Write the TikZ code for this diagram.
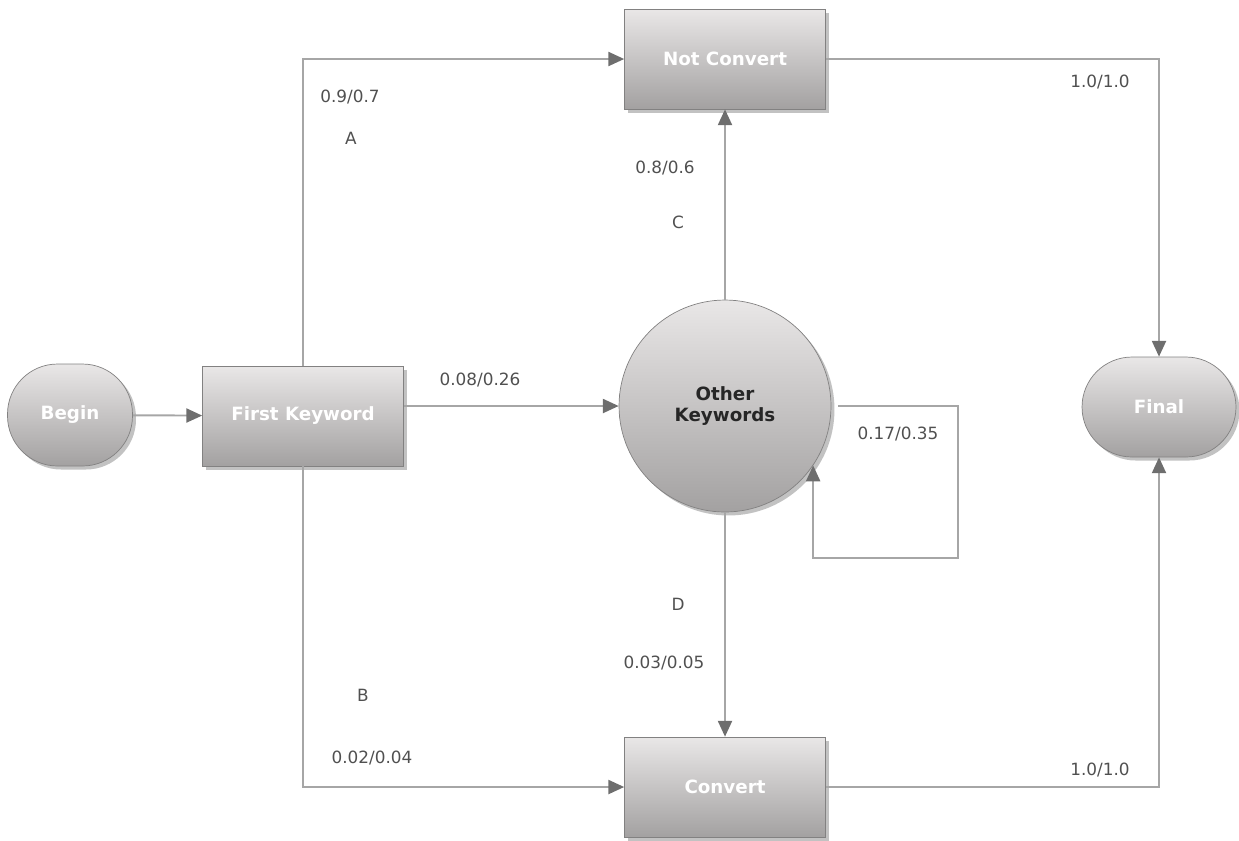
\documentclass[tikz,border=0pt]{standalone}
\usepackage{fontspec}
\setmainfont{DejaVu Sans}
\usetikzlibrary{shapes}
\usetikzlibrary{positioning}
\usetikzlibrary{shadows}
\usetikzlibrary{arrows.meta}

\definecolor{boxtop}{HTML}{E9E7E7}
\definecolor{boxbot}{HTML}{A3A1A1}
\definecolor{edgegray}{HTML}{A6A6A6}
\definecolor{tipgray}{HTML}{6E6E6E}
\definecolor{lblgray}{HTML}{505050}

\tikzset{
  base/.style={draw=boxbot!80!black, line width=0.4pt, top color=boxtop, bottom color=boxbot,
    drop shadow={shadow xshift=0.07cm, shadow yshift=-0.07cm, opacity=0.4, fill=black!60},
    font=\bfseries\fontsize{10.4}{12.5}\selectfont, text=white, align=center},
  box/.style={base, rectangle, minimum width=4.02cm, minimum height=2cm},
  terminal/.style={base, rectangle, rounded corners=1cm, minimum height=2cm},
  state/.style={base, circle, minimum size=4.24cm, text=black!85},
  flow/.style={draw=edgegray, line width=1.1pt, -{Triangle[length=9pt,width=8pt,color=tipgray]}},
  lbl/.style={text=lblgray, font=\fontsize{9.6}{11}\selectfont},
}

\begin{document}
\begin{tikzpicture}[x=0.02cm, y=-0.02cm]
\useasboundingbox (0,0) rectangle (1239,840);

% states
\node[terminal, minimum width=2.5cm, minimum height=2.04cm] (begin) at (70,415) {Begin};
\node[box] (first) at (303,416) {First Keyword};
\node[box] (notconv) at (725,59) {Not Convert};
\node[box] (conv) at (725,787) {Convert};
\node[state] (other) at (725,406) {Other\\Keywords};
\node[terminal, minimum width=3.08cm] (final) at (1159,407) {Final};

% transitions
\draw[flow] (begin) -- (first);
\draw[flow] (first.north) |- (notconv.west);
\draw[flow] (first.south) |- (conv.west);
\draw[flow] (first.east |- other.west) -- (other.west);
\draw[flow] (other.north) -- (notconv.south);
\draw[flow] (other.south) -- (conv.north);
\draw[flow] ([xshift=0.14cm]other.east) -- ++(120,0) -- ++(0,152) -| (other.-34);
\draw[flow] (notconv.east) -| (final.north);
\draw[flow] (conv.east) -| (final.south);

% probabilities
\node[lbl] (pA) at (350,97) {0.9/0.7};
\node[lbl] (nA) at (351,138) {A};
\node[lbl] (pFO) at (480,380) {0.08/0.26};
\node[lbl] (pC) at (665,168) {0.8/0.6};
\node[lbl] (nC) at (678,222) {C};
\node[lbl] (nD) at (678,604) {D};
\node[lbl] (pD) at (664,663) {0.03/0.05};
\node[lbl] (nB) at (363,695) {B};
\node[lbl] (pB) at (372,758) {0.02/0.04};
\node[lbl] (pOO) at (898,434) {0.17/0.35};
\node[lbl] (pNF) at (1100,82) {1.0/1.0};
\node[lbl] (pCF) at (1100,770) {1.0/1.0};
\end{tikzpicture}
\end{document}
